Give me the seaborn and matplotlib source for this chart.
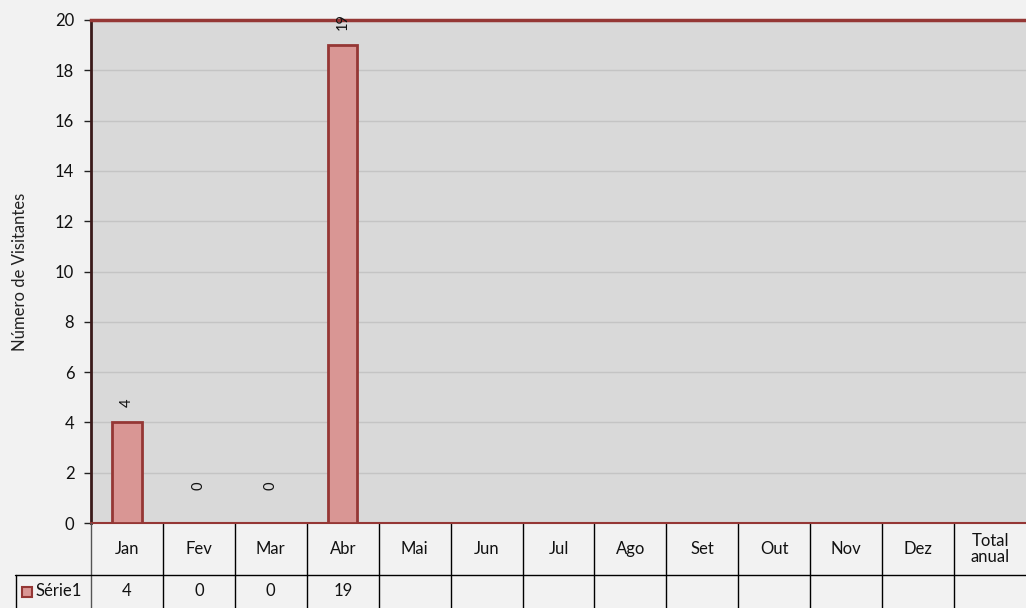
import numpy as np
import pandas as pd
import matplotlib
matplotlib.use("Agg")
import matplotlib.pyplot as plt
import matplotlib.transforms as mtransforms
from matplotlib.lines import Line2D
from matplotlib.patches import Rectangle
import seaborn as sns

# Data
categories = ['Jan', 'Fev', 'Mar', 'Abr', 'Mai', 'Jun', 'Jul', 'Ago', 'Set', 'Out', 'Nov', 'Dez', 'Total\nanual']
visitantes = [4, 0, 0, 19, np.nan, np.nan, np.nan, np.nan, np.nan, np.nan, np.nan, np.nan, np.nan]
serie_name = 'Série1'
y_label = 'Número de Visitantes'

df = pd.DataFrame({'mes': categories, 'visitantes': visitantes})

# Colours
fig_bg = '#F2F2F2'
plot_bg = '#D9D9D9'
bar_fill = '#D99694'
bar_edge = '#953735'
grid_col = '#C4C4C4'

sns.set_style('white')
plt.rcParams['font.family'] = ['Lato', 'DejaVu Sans']
fs = 12

W, H = 1026, 608
fig = plt.figure(figsize=(W / 100, H / 100), dpi=100, facecolor=fig_bg)
ax_left, ax_right, ax_top, ax_bottom = 91, 1026, 20, 523
ax = fig.add_axes([ax_left / W, (H - ax_bottom) / H, (ax_right - ax_left) / W, (ax_bottom - ax_top) / H])
ax.set_facecolor(plot_bg)

sns.barplot(data=df, x='mes', y='visitantes', order=categories, color=bar_fill,
            edgecolor=bar_edge, linewidth=2, width=0.41, saturation=1, ax=ax, zorder=3)

ax.set_xlim(-0.5, len(categories) - 0.5)
ax.set_ylim(0, 20)
ax.set_yticks(range(0, 21, 2))
ax.yaxis.grid(True, color=grid_col, linewidth=1, zorder=0)
ax.set_axisbelow(True)
ax.set_xticks([])
ax.set_xlabel('')
ax.set_ylabel(y_label, fontsize=fs, color='#222222')
ax.yaxis.set_label_coords((28 - ax_left) / (ax_right - ax_left), 0.5)
ax.tick_params(axis='y', direction='out', length=5, width=1, color='#222222',
               labelsize=fs, labelcolor='#111111', left=True, pad=7)

for side in ['top', 'bottom']:
    ax.spines[side].set_color(bar_edge)
ax.spines['top'].set_linewidth(2.5)
ax.spines['bottom'].set_linewidth(1.5)
ax.spines['left'].set_color('#3a1a1a')
ax.spines['left'].set_linewidth(2)
ax.spines['right'].set_visible(False)

# value labels (rotated like the original)
for i, v in enumerate(visitantes):
    if np.isnan(v):
        continue
    ax.annotate(f'{int(v)}', xy=(i, max(v, 0.7)), xytext=(0, 11), textcoords='offset points',
                rotation=90, ha='center', va='bottom', fontsize=10.5, color='#111111',
                zorder=10, annotation_clip=False, clip_on=False)

# data table below the plot
trans = mtransforms.blended_transform_factory(ax.transData, ax.transAxes)
axh = ax_bottom - ax_top
row1 = -52 / axh
row2_mid = -(591 - ax_bottom) / axh
for i, cat in enumerate(categories):
    ax.text(i, row1 / 2, cat, transform=trans, ha='center', va='center',
            fontsize=fs, color='#111111', linespacing=1.05, clip_on=False)
    v = visitantes[i]
    if not np.isnan(v):
        ax.text(i, row2_mid, f'{int(v)}', transform=trans, ha='center', va='center',
                fontsize=fs, color='#111111', clip_on=False)
for b in np.arange(0.5, len(categories) - 0.5, 1):
    ax.add_line(Line2D([b, b], [0, -0.3], transform=trans, color='black', lw=1, clip_on=False))

# left edge of header row, table row line and legend cell (figure pixels)
def fx(px):
    return px / W

def fy(py):
    return (H - py) / H

fig.add_artist(Line2D([fx(91), fx(91)], [fy(523), fy(608)], color='#555555', lw=1))
fig.add_artist(Line2D([fx(15), fx(1026)], [fy(575), fy(575)], color='black', lw=1))
fig.add_artist(Line2D([fx(15.5), fx(15.5)], [fy(575), fy(608)], color='black', lw=1))
fig.add_artist(Rectangle((fx(22), fy(597)), 10 / W, 10 / H, facecolor=bar_fill,
                         edgecolor=bar_edge, lw=1.5))
fig.text(fx(36), fy(591), serie_name, ha='left', va='center', fontsize=fs, color='#111111')

fig.savefig('out.png', dpi=100, facecolor=fig_bg)
